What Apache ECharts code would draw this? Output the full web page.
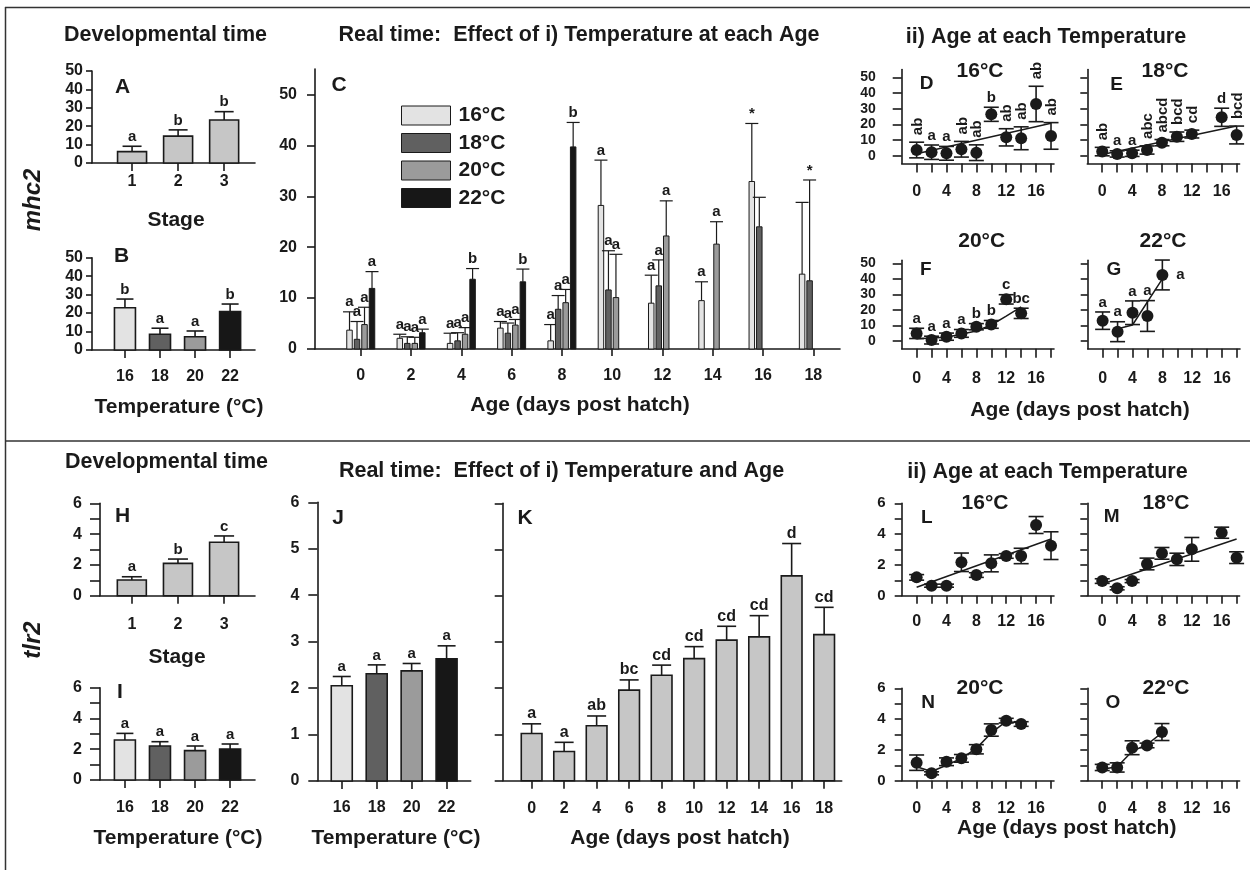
<!DOCTYPE html>
<html>
<head>
<meta charset="utf-8">
<script src="https://cdn.jsdelivr.net/npm/echarts@6/dist/echarts.min.js"></script>
<style>
html, body { margin: 0; padding: 0; background: #fff; }
#chart { width: 1250px; height: 870px; }
</style>
</head>
<body>
<div id="chart"></div>
<script>
var FONT = '"Liberation Sans", Arial, sans-serif'
var INK = '#1a1a1a'

// categories / tick labels
var stageLabels = ['1', '2', '3']
var tempLabels = ['16', '18', '20', '22']
var tempNames = ['16°C', '18°C', '20°C', '22°C']
var tempColors = ['#e3e3e3', '#606060', '#9b9b9b', '#171717']
var stageColor = '#c6c6c6'
var ageDays = [0, 2, 4, 6, 8, 10, 12, 14, 16, 18]
var dayTicks = [0, 2, 4, 6, 8, 10, 12, 14, 16, 18]
var dayLabels = [0, 4, 8, 12, 16]

// ---- mhc2 ----
// A: stage
var mhcStage = [6.2, 14.6, 23.4]
var mhcStageErr = [2.9, 3.4, 4.5]
var mhcStageSig = ['a', 'b', 'b']
// B: temperature
var mhcTemp = [22.9, 8.5, 7.2, 20.8]
var mhcTempErr = [4.7, 3.3, 3.1, 4.1]
var mhcTempSig = ['b', 'a', 'a', 'b']
// C: temperature at each age (null = not sampled)
var mhcAge16 = [3.7, 2.1, 1.1, 4.1, 1.6, 28.2, 9.0, 9.5, 32.9, 14.7]
var mhcAge16Err = [3.6, 0.8, 2.0, 1.3, 3.2, 8.9, 5.5, 3.7, 11.4, 14.1]
var mhcAge16Sig = ['a', 'a', 'a', 'a', 'a', 'a', 'a', 'a', '*', '']
var mhcAge18 = [1.9, 1.1, 1.6, 3.1, 7.8, 11.6, 12.4, null, 24.0, 13.4]
var mhcAge18Err = [3.5, 1.3, 1.6, 2.0, 2.7, 7.7, 5.1, null, 5.8, 19.8]
var mhcAge18Sig = ['a', 'a', 'a', 'a', 'a', 'a', 'a', '', '', '*']
var mhcAge20 = [4.8, 1.1, 2.9, 4.7, 9.1, 10.1, 22.2, 20.6, null, null]
var mhcAge20Err = [3.4, 1.2, 1.3, 1.1, 2.6, 8.5, 6.9, 4.4, null, null]
var mhcAge20Sig = ['a', 'a', 'a', 'a', 'a', 'a', 'a', 'a', '', '']
var mhcAge22 = [11.9, 3.2, 13.7, 13.2, 39.7, null, null, null, null, null]
var mhcAge22Err = [3.3, 0.7, 2.1, 2.5, 4.8, null, null, null, null, null]
var mhcAge22Sig = ['a', 'a', 'b', 'b', 'b', '', '', '', '', '']
// D-G: age at each temperature
var dDays = [0, 2, 4, 6, 8, 10, 12, 14, 16, 18]
var dMean = [3.6, 2.2, 1.5, 4.1, 1.9, 26.4, 11.7, 11.1, 33.0, 12.6]
var dErr = [5.0, 4.6, 4.4, 5.0, 5.0, 4.5, 5.5, 7.3, 11.3, 8.5]
var dSig = ['ab', 'a', 'a', 'ab', 'ab', 'b', 'ab', 'ab', 'ab', 'ab']
var dFit = [[0, 1.2], [18, 20.7]]
var eDays = [0, 2, 4, 6, 8, 10, 12, 16, 18]
var eMean = [2.6, 1.1, 1.5, 3.6, 8.3, 12.1, 13.8, 24.5, 13.2]
var eErr = [2.7, 2.0, 2.0, 2.6, 2.0, 3.0, 2.5, 5.8, 5.7]
var eSig = ['ab', 'a', 'a', 'abc', 'abcd', 'bcd', 'cd', 'd', 'bcd']
var eFit = [[0, 0.8], [18, 18.9]]
var fDays = [0, 2, 4, 6, 8, 10, 12, 14]
var fMean = [4.9, 0.6, 2.8, 4.9, 9.2, 10.7, 26.8, 17.8]
var fErr = [3.3, 2.5, 2.3, 2.5, 2.0, 2.5, 3.0, 3.3]
var fSig = ['a', 'a', 'a', 'a', 'b', 'b', 'c', 'bc']
var fFit = [[0, 1.5], [4, 2.5], [8, 6.5], [10, 10.3], [12, 16], [14, 22]]
var gDays = [0, 2, 4, 6, 8]
var gMean = [13.1, 6.0, 18.2, 16.1, 42.5]
var gErr = [5.6, 6.4, 7.6, 9.9, 9.6]
var gSig = ['a', 'a', 'a', 'a', 'a']
var gFit = [[2.3, 8.2], [4, 10.3], [8, 40]]

// ---- tlr2 ----
var tlrStage = [1.02, 2.1, 3.47]
var tlrStageErr = [0.21, 0.28, 0.41]
var tlrStageSig = ['a', 'b', 'c']
var tlrTempI = [2.6, 2.21, 1.91, 2.02]
var tlrTempIErr = [0.43, 0.28, 0.3, 0.32]
var tlrTempISig = ['a', 'a', 'a', 'a']
var tlrTempJ = [2.05, 2.31, 2.37, 2.63]
var tlrTempJErr = [0.2, 0.19, 0.16, 0.28]
var tlrTempJSig = ['a', 'a', 'a', 'a']
var tlrAge = [1.02, 0.63, 1.19, 1.96, 2.28, 2.64, 3.04, 3.11, 4.43, 3.16]
var tlrAgeErr = [0.21, 0.2, 0.21, 0.22, 0.22, 0.26, 0.3, 0.46, 0.7, 0.59]
var tlrAgeSig = ['a', 'a', 'ab', 'bc', 'cd', 'cd', 'cd', 'cd', 'd', 'cd']
var lDays = [0, 2, 4, 6, 8, 10, 12, 14, 16, 18]
var lMean = [1.19, 0.65, 0.65, 2.17, 1.34, 2.1, 2.58, 2.58, 4.59, 3.25]
var lErr = [0.18, 0.1, 0.1, 0.6, 0.15, 0.55, 0.15, 0.5, 0.55, 0.9]
var lFit = [[0, 0.55], [18, 3.68]]
var mDays = [0, 2, 4, 6, 8, 10, 12, 16, 18]
var mMean = [0.95, 0.48, 0.95, 2.06, 2.75, 2.36, 3.01, 4.09, 2.47]
var mErr = [0.15, 0.1, 0.1, 0.38, 0.38, 0.4, 0.77, 0.36, 0.38]
var mFit = [[0, 0.76], [18, 3.68]]
var nDays = [0, 2, 4, 6, 8, 10, 12, 14]
var nMean = [1.17, 0.48, 1.23, 1.45, 2.04, 3.29, 3.9, 3.68]
var nErr = [0.5, 0.1, 0.25, 0.25, 0.3, 0.4, 0.15, 0.15]
var nFit = [[0, 0.9], [2, 0.6], [4, 1.0], [6, 1.45], [8, 2.1], [10, 3.1], [12, 3.85], [14, 3.75]]
var oDays = [0, 2, 4, 6, 8]
var oMean = [0.86, 0.86, 2.14, 2.29, 3.16]
var oErr = [0.2, 0.3, 0.45, 0.15, 0.55]
var oFit = [[0, 0.75], [2, 0.9], [4, 1.9], [6, 2.35], [8, 3.1]]

var option = {
    animation: false,
    backgroundColor: '#fff',
    grid: [],
    xAxis: [],
    yAxis: [],
    series: [],
    graphic: [],
    legend: {
        data: tempNames,
        left: 396,
        top: 100,
        orient: 'vertical',
        icon: 'rect',
        itemWidth: 49,
        itemHeight: 19,
        itemGap: 6.5,
        selectedMode: false,
        itemStyle: { borderColor: INK, borderWidth: 1 },
        textStyle: { fontSize: 21, fontWeight: 'bold', color: INK, fontFamily: FONT, lineHeight: 19, padding: [0, 0, 0, 3] }
    }
}

function axis(gi, dim, range, s) {
    return {
        type: 'value',
        gridIndex: gi,
        min: range[0],
        max: range[1],
        position: dim === 'x' ? 'bottom' : 'left',
        splitLine: { show: false },
        axisLine: { show: true, onZero: false, lineStyle: { color: INK, width: 1.6 } },
        axisTick: { show: true, length: s.tickLen || 8, customValues: s.ticks, lineStyle: { color: INK, width: 1.6 } },
        axisLabel: {
            show: !!s.labels,
            customValues: s.labels || [],
            margin: s.margin || 10,
            formatter: s.fmt,
            fontSize: s.size || 16,
            fontWeight: 'bold',
            fontFamily: FONT,
            color: INK
        }
    }
}

function panel(box, xr, yr, xs, ys) {
    var gi = option.grid.length
    option.grid.push({ left: box[0], top: box[1], width: box[2], height: box[3] })
    option.xAxis.push(axis(gi, 'x', xr, xs))
    option.yAxis.push(axis(gi, 'y', yr, ys))
    return gi
}

function seg(x1, y1, x2, y2, w) {
    return { type: 'line', shape: { x1: x1, y1: y1, x2: x2, y2: y2 }, style: { stroke: INK, lineWidth: w || 1.5 } }
}

function barSeries(gi, xs, ys, es, sig, o) {
    var data = []
    xs.forEach(function(x, k) {
        if (ys[k] != null) data.push([x, ys[k], es[k], k])
    })
    var single = typeof o.color === 'string'
    return {
        type: 'custom',
        name: o.name,
        coordinateSystem: 'cartesian2d',
        xAxisIndex: gi,
        yAxisIndex: gi,
        silent: true,
        itemStyle: { color: single ? o.color : o.color[0] },
        encode: { x: 0, y: 1 },
        data: data,
        renderItem: function(params, api) {
            var x = api.value(0), y = api.value(1), e = api.value(2), k = api.value(3)
            var b = api.coord([x, 0]), t = api.coord([x, y]), h = api.coord([x, y + e])
            var cx = b[0] + (o.shift || 0), w = o.width, c = o.cap / 2
            var kids = [
                seg(cx, t[1], cx, h[1], o.errWidth),
                seg(cx - c, h[1], cx + c, h[1], o.errWidth),
                { type: 'rect', shape: { x: cx - w / 2, y: t[1], width: w, height: b[1] - t[1] },
                  style: { fill: single ? o.color : o.color[k], stroke: INK, lineWidth: o.border } }
            ]
            if (sig[k]) {
                kids.push({ type: 'text', style: { text: sig[k], x: cx, y: h[1] - 2, fill: INK,
                    font: 'bold ' + (o.font || 15) + 'px ' + FONT, textAlign: 'center', textVerticalAlign: 'bottom' } })
            }
            return { type: 'group', children: kids }
        }
    }
}

function dotSeries(gi, days, mean, err, sig, o) {
    var data = days.map(function(d, k) { return [d, mean[k], err[k], k] })
    return {
        type: 'custom',
        coordinateSystem: 'cartesian2d',
        xAxisIndex: gi,
        yAxisIndex: gi,
        silent: true,
        z: 3,
        encode: { x: 0, y: 1 },
        data: data,
        renderItem: function(params, api) {
            var x = api.value(0), y = api.value(1), e = api.value(2)
            var p = api.coord([x, y]), hi = api.coord([x, y + e]), lo = api.coord([x, y - e])
            var kids = [
                seg(p[0], hi[1], p[0], lo[1], 1.6),
                seg(p[0] - 7.5, hi[1], p[0] + 7.5, hi[1], 1.6),
                seg(p[0] - 7.5, lo[1], p[0] + 7.5, lo[1], 1.6),
                { type: 'circle', shape: { cx: p[0], cy: p[1], r: 6 }, style: { fill: INK } }
            ]
            var t = sig ? sig[api.value(3)] : ''
            var font = 'bold 15px ' + FONT
            if (t) {
                if (o.rotate && t.length > 1) {
                    kids.push({ type: 'text', x: p[0] + 1, y: hi[1] - 7, rotation: Math.PI / 2,
                        style: { text: t, x: 0, y: 0, fill: INK, font: font, textAlign: 'left', textVerticalAlign: 'middle' } })
                } else if (y + e > o.ymax * 0.9) {
                    kids.push({ type: 'text', style: { text: t, x: p[0] + 14, y: p[1], fill: INK, font: font,
                        textAlign: 'left', textVerticalAlign: 'middle' } })
                } else {
                    kids.push({ type: 'text', style: { text: t, x: p[0], y: hi[1] - 2, fill: INK, font: font,
                        textAlign: 'center', textVerticalAlign: 'bottom' } })
                }
            }
            return { type: 'group', children: kids }
        }
    }
}

function fitSeries(gi, pts) {
    return {
        type: 'line', xAxisIndex: gi, yAxisIndex: gi, data: pts, symbol: 'none', silent: true, z: 2,
        lineStyle: { color: INK, width: 1.5 }
    }
}

function text(x, y, s, size, weight, extra) {
    var el = { type: 'text', x: x, y: y, silent: true,
        style: { text: s, x: 0, y: 0, fill: INK, font: weight + ' ' + size + 'px ' + FONT,
            textAlign: 'center', textVerticalAlign: 'middle' } }
    if (extra) el.rotation = extra
    return el
}

var tenTicks = [0, 10, 20, 30, 40, 50]
var sixTicks = [0, 1, 2, 3, 4, 5, 6]
var evenTicks = [0, 2, 4, 6]
var stageFmt = function(v) { return stageLabels[v - 1] }
var tempFmt = function(v) { return tempLabels[v] }
var stageX = [1, 2, 3]
var tempX = [0, 1, 2, 3]

// ---- top row: mhc2 ----
var gA = panel([92, 71, 163, 92], [0.13, 3.67], [0, 50],
    { ticks: stageX, labels: stageX, fmt: stageFmt, margin: 11 },
    { ticks: tenTicks, labels: tenTicks, margin: 9, tickLen: 6 })
option.series.push(barSeries(gA, stageX, mhcStage, mhcStageErr, mhcStageSig,
    { color: stageColor, width: 29, cap: 19, border: 1.6, errWidth: 1.6 }))

var gB = panel([92, 257.7, 163, 92.3], [-0.94, 3.71], [0, 50],
    { ticks: tempX, labels: tempX, fmt: tempFmt, margin: 19 },
    { ticks: tenTicks, labels: tenTicks, margin: 9, tickLen: 6 })
option.series.push(barSeries(gB, tempX, mhcTemp, mhcTempErr, mhcTempSig,
    { color: tempColors, width: 21, cap: 17, border: 1.6, errWidth: 1.6 }))

var gC = panel([315, 69, 525, 280], [-1.82, 19.06], [0, 55],
    { ticks: ageDays, labels: ageDays, margin: 19, tickLen: 7 },
    { ticks: tenTicks, labels: tenTicks, margin: 18, tickLen: 8 })
var cShift = [-11.25, -3.75, 3.75, 11.25]
var cMeans = [mhcAge16, mhcAge18, mhcAge20, mhcAge22]
var cErrs = [mhcAge16Err, mhcAge18Err, mhcAge20Err, mhcAge22Err]
var cSigs = [mhcAge16Sig, mhcAge18Sig, mhcAge20Sig, mhcAge22Sig]
for (var i = 0; i < 4; i++) {
    option.series.push(barSeries(gC, ageDays, cMeans[i], cErrs[i], cSigs[i],
        { name: tempNames[i], color: tempColors[i], shift: cShift[i], width: 5.5, cap: 13, border: 1, errWidth: 1.2 }))
}

var dayX = { ticks: dayTicks, labels: dayLabels, margin: 20, tickLen: 9 }
var gD = panel([901.7, 69.5, 152.3, 94], [-2, 18.4], [-5, 55], dayX,
    { ticks: tenTicks, labels: tenTicks, margin: 26, tickLen: 9, size: 14 })
var gE = panel([1087.3, 69.5, 152.3, 94], [-2, 18.4], [-5, 55], dayX,
    { ticks: tenTicks, tickLen: 7 })
var dayXF = { ticks: dayTicks, labels: dayLabels, margin: 22, tickLen: 9 }
var gF = panel([901.7, 260.2, 152.3, 88.6], [-2, 18.4], [-5, 52], dayXF,
    { ticks: tenTicks, labels: tenTicks, margin: 26, tickLen: 9, size: 14 })
var gG = panel([1087.7, 260.2, 152.3, 88.6], [-2, 18.4], [-5, 52], dayXF,
    { ticks: tenTicks, tickLen: 7 })
option.series.push(fitSeries(gD, dFit), dotSeries(gD, dDays, dMean, dErr, dSig, { rotate: true, ymax: 55 }))
option.series.push(fitSeries(gE, eFit), dotSeries(gE, eDays, eMean, eErr, eSig, { rotate: true, ymax: 55 }))
option.series.push(fitSeries(gF, fFit), dotSeries(gF, fDays, fMean, fErr, fSig, { rotate: false, ymax: 52 }))
option.series.push(fitSeries(gG, gFit), dotSeries(gG, gDays, gMean, gErr, gSig, { rotate: false, ymax: 52 }))

// ---- bottom row: tlr2 ----
var gH = panel([100, 503.3, 155, 92.4], [0.31, 3.67], [0, 6],
    { ticks: stageX, labels: stageX, fmt: stageFmt, margin: 21 },
    { ticks: sixTicks, labels: evenTicks, margin: 18, tickLen: 10 })
option.series.push(barSeries(gH, stageX, tlrStage, tlrStageErr, tlrStageSig,
    { color: stageColor, width: 29, cap: 20, border: 1.6, errWidth: 1.6 }))

var gI = panel([100, 687.7, 155, 92.3], [-0.71, 3.71], [0, 6],
    { ticks: tempX, labels: tempX, fmt: tempFmt, margin: 20 },
    { ticks: sixTicks, labels: evenTicks, margin: 18, tickLen: 10 })
option.series.push(barSeries(gI, tempX, tlrTempI, tlrTempIErr, tlrTempISig,
    { color: tempColors, width: 21, cap: 17, border: 1.6, errWidth: 1.6 }))

var gJ = panel([317.3, 502.3, 153.4, 278.7], [-0.7, 3.69], [0, 6],
    { ticks: tempX, labels: tempX, fmt: tempFmt, margin: 19 },
    { ticks: sixTicks, labels: sixTicks, margin: 18, tickLen: 9 })
option.series.push(barSeries(gJ, tempX, tlrTempJ, tlrTempJErr, tlrTempJSig,
    { color: tempColors, width: 21, cap: 18, border: 1.6, errWidth: 1.6 }))

var gK = panel([502.7, 503.3, 339, 277.4], [-1.78, 19.08], [0, 6],
    { ticks: ageDays, labels: ageDays, margin: 19.5 },
    { ticks: sixTicks, tickLen: 8 })
option.series.push(barSeries(gK, ageDays, tlrAge, tlrAgeErr, tlrAgeSig,
    { color: stageColor, width: 20.7, cap: 19, border: 1.6, errWidth: 1.6, font: 16 }))

var dayXL = { ticks: dayTicks, labels: dayLabels, margin: 18, tickLen: 8 }
var dayXN = { ticks: dayTicks, labels: dayLabels, margin: 19.5, tickLen: 8 }
var gL = panel([901.7, 503.3, 152.3, 92.4], [-2, 18.4], [0, 6], dayXL,
    { ticks: sixTicks, labels: evenTicks, margin: 16, tickLen: 7, size: 15 })
var gM = panel([1087.3, 503.3, 152.3, 92.4], [-2, 18.4], [0, 6], dayXL,
    { ticks: sixTicks, tickLen: 7 })
var gN = panel([901.7, 688.3, 152.3, 92.4], [-2, 18.4], [0, 6], dayXN,
    { ticks: sixTicks, labels: evenTicks, margin: 16, tickLen: 7, size: 15 })
var gO = panel([1087.3, 688.3, 152.3, 92.4], [-2, 18.4], [0, 6], dayXN,
    { ticks: sixTicks, tickLen: 7 })
option.series.push(fitSeries(gL, lFit), dotSeries(gL, lDays, lMean, lErr, null, { ymax: 6 }))
option.series.push(fitSeries(gM, mFit), dotSeries(gM, mDays, mMean, mErr, null, { ymax: 6 }))
option.series.push(fitSeries(gN, nFit), dotSeries(gN, nDays, nMean, nErr, null, { ymax: 6 }))
option.series.push(fitSeries(gO, oFit), dotSeries(gO, oDays, oMean, oErr, null, { ymax: 6 }))

// ---- texts and frame ----
var g = option.graphic
g.push(
    { type: 'line', silent: true, shape: { x1: 5, y1: 7.5, x2: 1250, y2: 7.5 }, style: { stroke: '#333', lineWidth: 1.5 } },
    { type: 'line', silent: true, shape: { x1: 5.5, y1: 7, x2: 5.5, y2: 870 }, style: { stroke: '#333', lineWidth: 1.5 } },
    { type: 'line', silent: true, shape: { x1: 5, y1: 441, x2: 1250, y2: 441 }, style: { stroke: '#333', lineWidth: 1.5 } },

    text(165.5, 35, 'Developmental time', 21.5, 'bold'),
    text(579, 35, 'Real time:  Effect of i) Temperature at each Age', 21.5, 'bold'),
    text(1046, 37, 'ii) Age at each Temperature', 21.5, 'bold'),
    text(166.5, 462, 'Developmental time', 21.5, 'bold'),
    text(561.5, 471, 'Real time:  Effect of i) Temperature and Age', 21.5, 'bold'),
    text(1047.5, 471.7, 'ii) Age at each Temperature', 21.5, 'bold'),

    text(176, 220, 'Stage', 21, 'bold'),
    text(179, 407, 'Temperature (°C)', 21, 'bold'),
    text(580, 405, 'Age (days post hatch)', 21, 'bold'),
    text(1080, 410, 'Age (days post hatch)', 21, 'bold'),
    text(177, 657, 'Stage', 21, 'bold'),
    text(178, 838, 'Temperature (°C)', 21, 'bold'),
    text(396, 838, 'Temperature (°C)', 21, 'bold'),
    text(680, 838, 'Age (days post hatch)', 21, 'bold'),
    text(1066.7, 828.3, 'Age (days post hatch)', 21, 'bold'),

    text(33, 200, 'mhc2', 24, 'italic bold', Math.PI / 2),
    text(33, 640, 'tlr2', 24, 'italic bold', Math.PI / 2),

    text(980, 71.7, '16°C', 21, 'bold'),
    text(1165, 71.7, '18°C', 21, 'bold'),
    text(981.7, 241.7, '20°C', 21, 'bold'),
    text(1163, 241.7, '22°C', 21, 'bold'),
    text(985, 503.3, '16°C', 21, 'bold'),
    text(1166, 503, '18°C', 21, 'bold'),
    text(980, 688.3, '20°C', 21, 'bold'),
    text(1166, 688.3, '22°C', 21, 'bold')
)
var panelLetters = [
    ['A', 122.5, 87.5], ['B', 121.7, 256.7], ['C', 339, 85.5], ['D', 926.7, 84], ['E', 1116.7, 84.8],
    ['F', 925.8, 270], ['G', 1114, 270], ['H', 122.5, 516.7], ['I', 120, 692.5], ['J', 338, 518],
    ['K', 525, 518], ['L', 926.7, 517.3], ['M', 1111.7, 517], ['N', 928, 702.7], ['O', 1113, 703]
]
panelLetters.forEach(function(p) {
    g.push(text(p[1], p[2], p[0], p[1] > 880 ? 19 : 21, 'bold'))
})

var chart = echarts.init(document.getElementById('chart'))
chart.setOption(option)
</script>
</body>
</html>
